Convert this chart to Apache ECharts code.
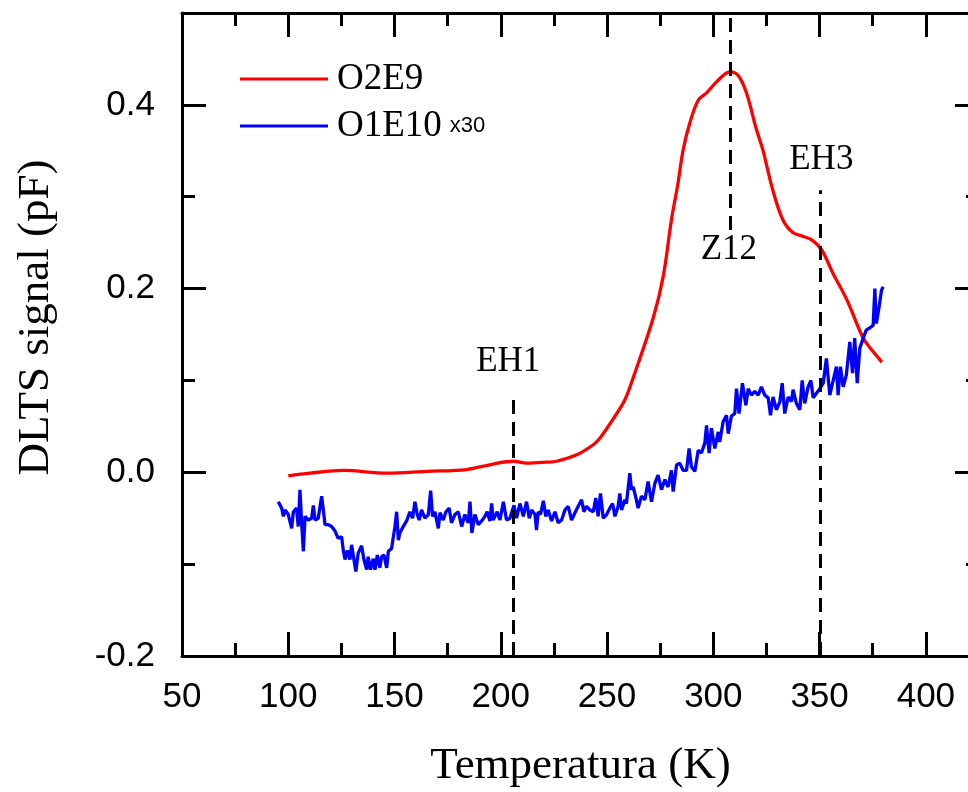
<!DOCTYPE html>
<html><head><meta charset="utf-8">
<script src="https://cdn.jsdelivr.net/npm/echarts@6/dist/echarts.min.js"></script>
<style>html,body{margin:0;padding:0;background:#fff}#c{width:968px;height:792px}</style>
</head><body><div id="c"></div>
<script>
// O2E9 (red) : [T (K), DLTS signal (pF)]
const o2e9 = [[100.0,-0.004],[110.2,-0.001],[125.9,0.002],[146.3,-0.001],[165.1,0.001],[183.9,0.003],[196.4,0.009],[205.9,0.012],[212.1,0.010],[221.5,0.011],[226.2,0.012],[235.7,0.019],[243.5,0.030],[246.6,0.037],[253.7,0.061],[258.4,0.079],[262.3,0.103],[271.7,0.168],[276.4,0.213],[280.3,0.275],[283.4,0.315],[285.8,0.351],[288.9,0.380],[292.9,0.405],[296.8,0.413],[301.5,0.425],[307.8,0.436],[311.7,0.432],[315.6,0.413],[320.3,0.373],[323.3,0.351],[328.0,0.307],[332.7,0.275],[337.4,0.261],[342.0,0.257],[346.3,0.253],[351.0,0.242],[356.2,0.217],[362.8,0.188],[370.3,0.147],[374.6,0.133],[379.3,0.120]];

// O1E10 x30 (blue)
const o1e10 = [[95.3,-0.032],[96.9,-0.039],[97.7,-0.048],[98.5,-0.041],[100.0,-0.046],[101.6,-0.061],[102.4,-0.043],[103.9,-0.039],[104.7,-0.059],[105.5,-0.019],[106.3,-0.055],[107.1,-0.086],[107.9,-0.048],[109.4,-0.052],[111.0,-0.050],[111.8,-0.036],[112.6,-0.052],[114.1,-0.050],[115.7,-0.026],[116.5,-0.041],[117.3,-0.057],[118.8,-0.057],[120.4,-0.059],[122.0,-0.064],[123.5,-0.072],[125.1,-0.070],[125.9,-0.085],[126.7,-0.095],[127.8,-0.085],[129.0,-0.095],[129.8,-0.079],[130.9,-0.095],[131.8,-0.108],[132.9,-0.088],[134.5,-0.080],[135.6,-0.095],[136.9,-0.106],[137.6,-0.092],[138.7,-0.106],[140.0,-0.094],[140.8,-0.106],[141.9,-0.090],[143.1,-0.104],[143.9,-0.092],[145.0,-0.090],[146.3,-0.104],[147.1,-0.086],[147.8,-0.085],[148.6,-0.083],[149.4,-0.081],[150.2,-0.059],[151.0,-0.043],[151.8,-0.074],[152.5,-0.066],[154.1,-0.059],[155.7,-0.053],[157.2,-0.043],[158.5,-0.050],[159.6,-0.032],[160.7,-0.046],[161.6,-0.052],[162.7,-0.041],[164.3,-0.050],[165.9,-0.046],[167.0,-0.020],[167.9,-0.048],[169.0,-0.043],[170.6,-0.061],[171.4,-0.044],[172.9,-0.052],[174.2,-0.043],[175.7,-0.039],[176.8,-0.055],[178.4,-0.046],[180.0,-0.043],[181.6,-0.059],[183.1,-0.046],[184.7,-0.055],[185.5,-0.032],[186.4,-0.066],[187.8,-0.046],[189.4,-0.057],[191.0,-0.053],[192.5,-0.048],[193.6,-0.043],[194.9,-0.053],[195.7,-0.034],[196.4,-0.052],[198.3,-0.043],[199.6,-0.052],[201.2,-0.032],[202.7,-0.052],[204.3,-0.050],[206.2,-0.036],[207.4,-0.050],[209.0,-0.034],[210.6,-0.048],[212.1,-0.032],[213.4,-0.050],[214.5,-0.041],[216.1,-0.046],[216.8,-0.063],[217.6,-0.043],[218.7,-0.046],[220.0,-0.031],[221.2,-0.048],[222.3,-0.041],[223.9,-0.053],[225.5,-0.043],[227.0,-0.055],[228.6,-0.052],[230.2,-0.041],[231.7,-0.037],[233.3,-0.052],[234.9,-0.044],[236.4,-0.037],[238.0,-0.030],[239.1,-0.043],[240.3,-0.037],[241.9,-0.041],[243.5,-0.043],[244.7,-0.028],[245.8,-0.048],[246.9,-0.023],[248.2,-0.050],[249.8,-0.046],[251.3,-0.039],[252.6,-0.034],[253.7,-0.048],[255.2,-0.037],[256.0,-0.023],[256.8,-0.041],[258.4,-0.030],[259.1,-0.034],[260.7,-0.001],[261.5,-0.019],[262.3,-0.016],[263.8,-0.030],[264.6,-0.039],[266.2,-0.026],[267.8,-0.030],[269.3,-0.010],[270.9,-0.032],[272.5,-0.012],[274.0,-0.003],[275.6,-0.019],[277.2,-0.008],[278.7,-0.016],[280.3,0.002],[281.1,-0.021],[282.7,0.008],[284.2,0.010],[285.8,0.002],[287.4,0.002],[288.6,0.026],[289.7,0.006],[291.3,0.001],[292.9,0.024],[294.4,0.021],[296.0,0.032],[296.8,0.051],[298.0,0.021],[299.1,0.048],[300.7,0.026],[302.3,0.044],[303.0,0.033],[304.6,0.055],[306.2,0.062],[307.0,0.042],[308.5,0.061],[310.1,0.064],[310.9,0.091],[312.1,0.064],[313.7,0.097],[315.3,0.073],[316.4,0.091],[317.9,0.084],[319.5,0.088],[321.1,0.084],[322.6,0.093],[324.2,0.084],[325.8,0.081],[326.9,0.062],[328.1,0.082],[329.7,0.068],[331.3,0.077],[332.4,0.097],[333.6,0.064],[335.2,0.082],[336.8,0.077],[337.5,0.090],[339.1,0.075],[340.7,0.068],[341.8,0.100],[343.0,0.075],[344.6,0.093],[345.9,0.100],[347.0,0.081],[348.5,0.086],[350.1,0.091],[351.7,0.097],[353.2,0.124],[354.8,0.084],[356.4,0.100],[357.9,0.115],[358.7,0.084],[359.8,0.115],[361.1,0.093],[362.6,0.106],[364.2,0.142],[365.5,0.108],[366.5,0.146],[367.7,0.097],[368.9,0.135],[370.5,0.146],[372.0,0.155],[373.6,0.157],[375.2,0.160],[376.0,0.200],[376.7,0.162],[378.0,0.180],[379.1,0.198],[379.9,0.202]];

// Peak markers
const markerNames = ['EH1', 'Z12', 'EH3'];
const markerT = [205.8, 307.8, 350.1];
const markerFrom = [-0.2, 0.2637, -0.2];
const markerTo = [0.0806, 0.5, 0.307];
const markerLabelT = [203.5, 307.3, 350.8];
const markerLabelV = [0.120, 0.242, 0.340];

const seriesNames = ['O2E9', 'O1E10'];
const xRange = [50, 425];
const yRange = [-0.2, 0.5];

const black = '#000';
const serif = 'Liberation Serif';
const sans = 'Liberation Sans';

function xAx(pos, interval, len, labels, extra) {
  return Object.assign({
    type: 'value', position: pos, min: xRange[0], max: xRange[1], interval: interval,
    axisLine: { show: true, onZero: false, lineStyle: { color: black, width: 3 } },
    axisTick: { show: true, inside: true, length: len, lineStyle: { color: black, width: 3 } },
    axisLabel: labels ? { show: true, margin: 24, fontSize: 35, fontFamily: sans, color: black, showMaxLabel: false, showMinLabel: true } : { show: false },
    splitLine: { show: false }
  }, extra || {});
}
function yAx(pos, interval, len, labels, extra) {
  return Object.assign({
    type: 'value', position: pos, min: yRange[0], max: yRange[1], interval: interval,
    axisLine: { show: true, onZero: false, lineStyle: { color: black, width: 3 } },
    axisTick: { show: true, inside: true, length: len, lineStyle: { color: black, width: 3 } },
    axisLabel: labels ? { show: true, margin: 27, fontSize: 35, fontFamily: sans, color: black, showMaxLabel: false, formatter: v => v.toFixed(1) } : { show: false },
    splitLine: { show: false }
  }, extra || {});
}

const chart = echarts.init(document.getElementById('c'), null, { renderer: 'canvas' });
chart.setOption({
  backgroundColor: '#fff',
  animation: false,
  grid: { left: 182, top: 13, width: 797, height: 643, containLabel: false, outerBoundsMode: 'none' },
  legend: {
    data: seriesNames, orient: 'vertical', left: 240, top: 59, padding: 0,
    icon: 'rect', itemWidth: 88, itemHeight: 3, itemGap: 7,
    textStyle: {
      color: black, fontFamily: serif, fontSize: 37, lineHeight: 40,
      rich: {
        a: { fontFamily: serif, fontSize: 37, lineHeight: 40, color: black, padding: [0, 0, 0, 4] },
        b: { fontFamily: sans, fontSize: 22, lineHeight: 40, color: black, padding: [0, 0, 0, 8] }
      }
    },
    formatter: n => n === 'O1E10' ? '{a|' + n + '}{b|x30}' : '{a|' + n + '}',
    selectedMode: false
  },
  xAxis: [
    xAx('bottom', 50, 24, true, { name: 'Temperatura (K)', nameLocation: 'middle', nameGap: 88,
      nameTextStyle: { fontFamily: serif, fontSize: 45, color: black } }),
    xAx('bottom', 25, 13, false, { axisLine: { show: false, onZero: false } }),
    xAx('top', 50, 24, false),
    xAx('top', 25, 13, false, { axisLine: { show: false, onZero: false } })
  ],
  yAxis: [
    yAx('left', 0.2, 24, true, { name: 'DLTS signal (pF)', nameLocation: 'middle', nameGap: 123,
      nameTextStyle: { fontFamily: serif, fontSize: 45, color: black, padding: [0, 0, 0, 34] } }),
    yAx('left', 0.1, 13, false, { axisLine: { show: false, onZero: false } }),
    yAx('right', 0.2, 24, false),
    yAx('right', 0.1, 13, false, { axisLine: { show: false, onZero: false } })
  ],
  series: [
    { name: seriesNames[0], type: 'line', data: o2e9, smooth: 0.35, symbol: 'none', color: '#ff0000',
      lineStyle: { color: '#ff0000', width: 3.3 }, z: 2 },
    { name: seriesNames[1], type: 'line', data: o1e10, smooth: false, symbol: 'none', color: '#0000ff',
      lineStyle: { color: '#0000ff', width: 3.3 }, z: 3 },
    { name: 'markers', type: 'line', data: [], z: 5, symbol: 'none',
      markLine: {
        silent: true, symbol: ['none', 'none'], animation: false,
        lineStyle: { color: black, width: 3, type: [14, 8] },
        label: { show: false },
        data: markerT.map((t, i) => [{ coord: [t, markerFrom[i]] }, { coord: [t, markerTo[i]] }])
      }
    },
    { name: 'labels', type: 'scatter', symbol: 'circle', symbolSize: 1, z: 6, silent: true,
      itemStyle: { color: 'rgba(0,0,0,0)' },
      data: markerNames.map((n, i) => ({ name: n, value: [markerLabelT[i], markerLabelV[i]] })),
      label: { show: true, position: 'inside', formatter: p => p.name, fontFamily: serif, fontSize: 35,
        color: '#000', opacity: 1, textBorderWidth: 0, textShadowBlur: 0 },
      labelLayout: { hideOverlap: false }
    }
  ]
});
</script>
</body></html>
